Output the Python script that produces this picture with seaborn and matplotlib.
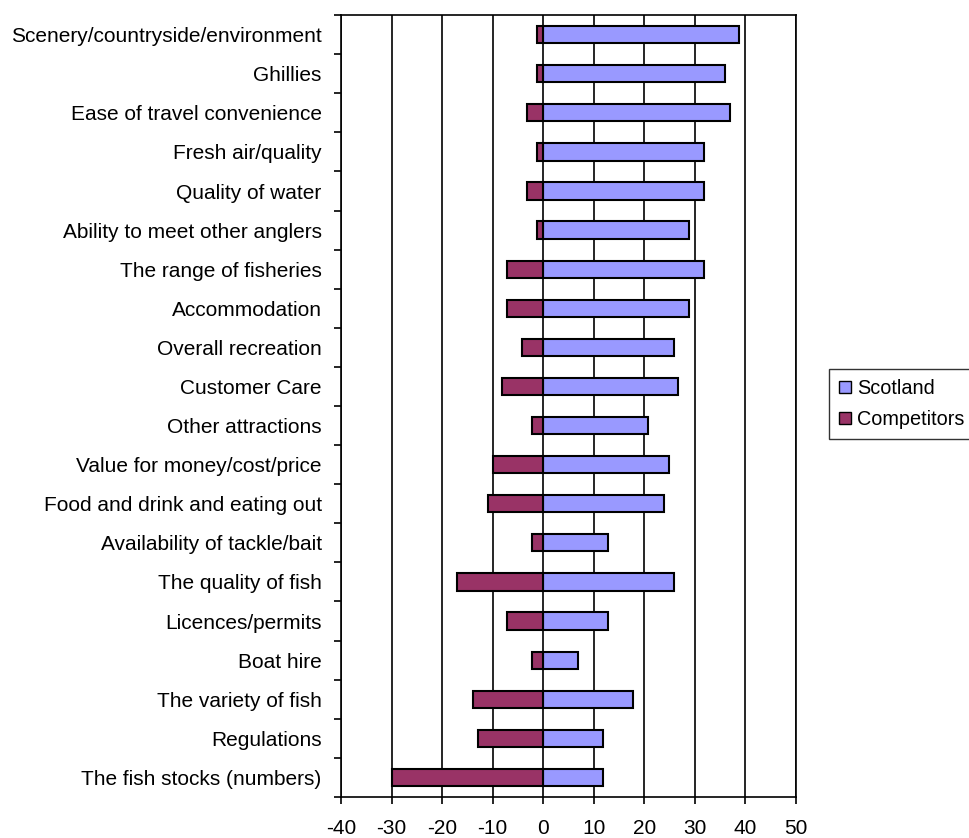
import pandas as pd
import matplotlib.pyplot as plt
import seaborn as sns
from matplotlib.ticker import MultipleLocator, FixedLocator

# values
categories = ['Scenery/countryside/environment', 'Ghillies', 'Ease of travel convenience',
              'Fresh air/quality', 'Quality of water', 'Ability to meet other anglers',
              'The range of fisheries', 'Accommodation', 'Overall recreation', 'Customer Care',
              'Other attractions', 'Value for money/cost/price', 'Food and drink and eating out',
              'Availability of tackle/bait', 'The quality of fish', 'Licences/permits',
              'Boat hire', 'The variety of fish', 'Regulations', 'The fish stocks (numbers)']
scotland = [38.8, 35.9, 36.9, 31.8, 31.8, 28.8, 31.8, 28.8, 25.8, 26.7,
            20.7, 24.8, 23.9, 12.9, 25.9, 12.9, 6.8, 17.8, 11.9, 11.9]
competitors = [-1.3, -1.3, -3.2, -1.3, -3.2, -1.3, -7.1, -7.1, -4.2, -8.2,
               -2.3, -10, -11, -2.3, -17, -7.1, -2.3, -14, -13, -30]

df = pd.DataFrame({
    'category': categories * 2,
    'value': scotland + competitors,
    'series': ['Scotland'] * len(categories) + ['Competitors'] * len(categories),
})

sns.set_style('white')
plt.rcParams['font.family'] = ['Liberation Sans', 'DejaVu Sans']
plt.rcParams['axes.unicode_minus'] = False
plt.rcParams['text.color'] = 'black'
plt.rcParams['xtick.color'] = 'black'
plt.rcParams['ytick.color'] = 'black'

fig = plt.figure(figsize=(9.69, 8.38), dpi=100)
ax = fig.add_axes([0.352, 0.049, 0.4695, 0.933])

palette = {'Scotland': '#9999FF', 'Competitors': '#993366'}
sns.barplot(data=df, x='value', y='category', hue='series', order=categories,
            palette=palette, saturation=1, dodge=False, width=0.44, orient='h',
            edgecolor='black', linewidth=1.5, ax=ax, zorder=3)

ax.set_xlim(-40, 50)
ax.set_ylim(len(categories) - 0.5, -0.5)
ax.xaxis.set_major_locator(MultipleLocator(10))
ax.grid(axis='x', color='black', linewidth=1.2, zorder=0)
ax.set_axisbelow(True)

ax.set_xlabel('')
ax.set_ylabel('')
ax.tick_params(axis='x', direction='out', length=5, width=1.2, labelsize=15, pad=11,
               bottom=True, labelcolor='black')
ax.tick_params(axis='y', which='major', length=0, labelsize=15, pad=14, labelcolor='black')
ax.yaxis.set_minor_locator(FixedLocator([i - 0.5 for i in range(len(categories) + 1)]))
ax.tick_params(axis='y', which='minor', direction='out', length=5, width=1.2, left=True)

for s in ax.spines.values():
    s.set_color('black')
    s.set_linewidth(1.2)

ax.get_legend().remove()
handles = [plt.Rectangle((0, 0), 1, 1, facecolor=palette[k], edgecolor='black', linewidth=1)
           for k in ['Scotland', 'Competitors']]
leg = fig.legend(handles, ['Scotland', 'Competitors'], loc='center left',
                 bbox_to_anchor=(0.8555, 0.518), fontsize=14.3, frameon=True, fancybox=False,
                 handlelength=0.6, handleheight=0.6, handletextpad=0.3, borderpad=0.5,
                 labelspacing=0.6, borderaxespad=0)
leg.get_frame().set_edgecolor('black')
leg.get_frame().set_linewidth(1)
for t in leg.get_texts():
    t.set_color('black')

fig.savefig('out.png', dpi=100)
